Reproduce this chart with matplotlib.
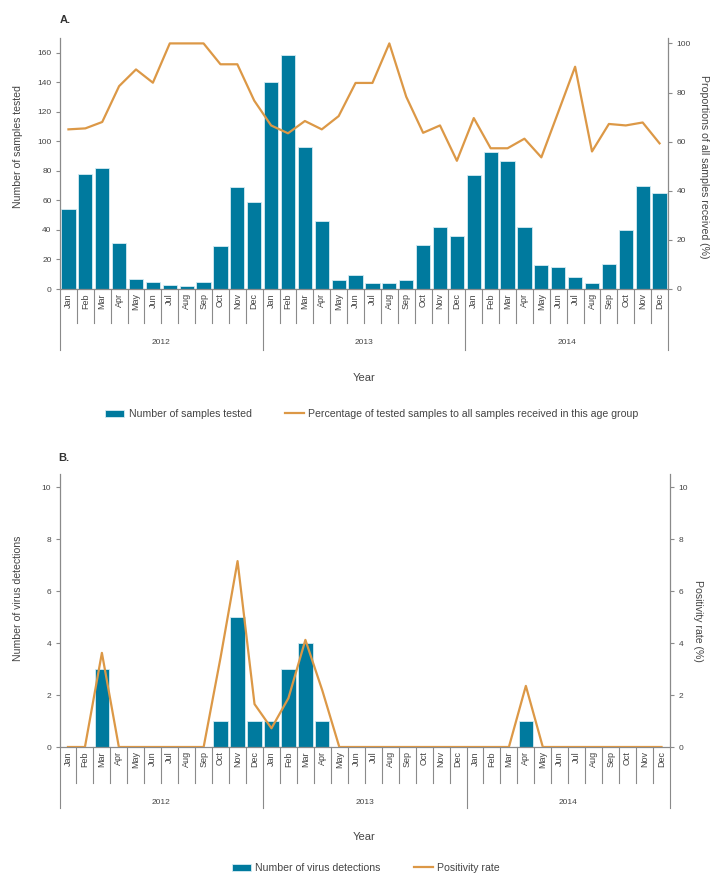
import matplotlib
matplotlib.use('Agg')
import matplotlib.pyplot as plt
import numpy as np

plt.rcParams['font.family'] = ['Liberation Sans', 'DejaVu Sans']

months = ['Jan', 'Feb', 'Mar', 'Apr', 'May', 'Jun', 'Jul', 'Aug', 'Sep', 'Oct', 'Nov', 'Dec']
years = ['2012', '2013', '2014']

# Panel A: samples tested and share of all samples received (%)
samples_tested = [54, 78, 82, 31, 7, 4.5, 3, 2, 5, 29, 69, 59,
                  140, 158.5, 96, 46, 6, 9.5, 4.3, 4.3, 6, 30, 42, 36,
                  77, 93, 87, 42, 16, 15, 8, 4.3, 17, 40, 70, 65]
pct_tested = [65, 65.4, 68, 82.6, 89.4, 84, 100, 100, 100, 91.5, 91.5, 76.7,
              66.6, 63.4, 68.4, 65, 70.4, 83.9, 83.9, 100, 78.3, 63.6, 66.6, 52.2,
              69.6, 57.3, 57.3, 61.2, 53.6, 72, 90.5, 56, 67.2, 66.6, 67.8, 59.3]

# Panel B: virus detections and positivity rate (%)
detections = [0, 0, 3, 0, 0, 0, 0, 0, 0, 1, 5, 1,
              1, 3, 4, 1, 0, 0, 0, 0, 0, 0, 0, 0,
              0, 0, 0, 1, 0, 0, 0, 0, 0, 0, 0, 0]
positivity = [0, 0, 3.62, 0, 0, 0, 0, 0, 0, 3.45, 7.15, 1.65,
              0.72, 1.88, 4.12, 2.17, 0, 0, 0, 0, 0, 0, 0, 0,
              0, 0, 0, 2.35, 0, 0, 0, 0, 0, 0, 0, 0]

BAR = '#007a9e'
LINE = '#dc9846'
GREY = '#8a8a8a'
TXT = '#444444'
FS = 7.6

W, H = 725, 885
fig = plt.figure(figsize=(W / 100, H / 100), dpi=100)


def px(x, y):
    return x / W, 1 - y / H


def make_panel(rect, bars, line, ylim_l, ylim_r, yticks_l, yticks_r, leg_labels, geom):
    ax = fig.add_axes(rect)
    x = np.arange(36)
    ax.bar(x, bars, width=0.84, color=BAR, edgecolor='#d6ebf2', linewidth=0.6, zorder=2,
           label=leg_labels[0])
    ax.set_xlim(-0.5, 35.5)
    ax.set_ylim(*ylim_l)
    ax.set_yticks(yticks_l)
    ax2 = ax.twinx()
    ax2.plot(x, line, color=LINE, lw=1.6, zorder=3, label=leg_labels[1])
    ax2.set_ylim(*ylim_r)
    ax2.set_yticks(yticks_r)

    for a in (ax, ax2):
        a.spines['top'].set_visible(False)
        for s in ('left', 'right', 'bottom'):
            a.spines[s].set_color(GREY)
            a.spines[s].set_linewidth(0.9)
        a.tick_params(axis='y', length=3, width=0.8, color=GREY, labelsize=6,
                      labelcolor=TXT, pad=3)
    ax.spines['right'].set_visible(False)
    ax2.spines['left'].set_visible(False)
    ax2.spines['bottom'].set_visible(False)

    ax.set_xticks(x)
    ax.set_xticklabels(months * 3, rotation=90, fontsize=6.5, color=TXT, va='top')
    ax.tick_params(axis='x', length=0, pad=3)

    # month / year separators below the axis
    ax_h = geom['ax_h']
    m_len = geom['m_len'] / ax_h
    y_len = geom['y_len'] / ax_h
    tr = ax.get_xaxis_transform()
    for i in range(37):
        xs = i - 0.5
        depth = y_len if i % 12 == 0 else m_len
        ax.plot([xs, xs], [0, -depth], color=GREY, lw=0.8, transform=tr,
                clip_on=False, zorder=1)
    for k, yr in enumerate(years):
        ax.text(k * 12 + 5.5, -geom['yr_y'] / ax_h, yr, transform=tr, ha='center',
                va='center', fontsize=6, color=TXT)

    h1, l1 = ax.get_legend_handles_labels()
    h2, l2 = ax2.get_legend_handles_labels()
    return ax, ax2, h1 + h2, l1 + l2


# ---- Panel A ----
axA, axA2, hA, lA = make_panel(
    [60 / W, 1 - 289 / H, 608 / W, 251 / H],
    samples_tested, pct_tested, (0, 170), (0, 102.2),
    np.arange(0, 161, 20), np.arange(0, 101, 20),
    ['Number of samples tested',
     'Percentage of tested samples to all samples received in this age group'],
    dict(ax_h=251, m_len=34, y_len=61, yr_y=54))

fig.text(*px(60, 20), 'A.', fontsize=8, fontweight='bold', color='#333333', va='center')
fig.text(*px(18, 147), 'Number of samples tested', rotation=90, ha='center', va='center',
         fontsize=FS, color=TXT)
fig.text(*px(704, 167), 'Proportions of all samples received (%)', rotation=270,
         ha='center', va='center', fontsize=FS, color=TXT)
fig.text(*px(364, 378), 'Year', ha='center', va='center', fontsize=FS + 0.4, color=TXT)
fig.legend(hA, lA, loc='center', bbox_to_anchor=px(372, 414), ncol=2, frameon=False,
           fontsize=FS, handlelength=1.8, handleheight=0.6, columnspacing=3.2,
           handletextpad=0.4, labelcolor=TXT)

# ---- Panel B ----
axB, axB2, hB, lB = make_panel(
    [59.5 / W, 1 - 747 / H, 610.5 / W, 273 / H],
    detections, positivity, (0, 10.5), (0, 10.5),
    np.arange(0, 11, 2), np.arange(0, 11, 2),
    ['Number of virus detections', 'Positivity rate'],
    dict(ax_h=273, m_len=36, y_len=61, yr_y=55))

fig.text(*px(58, 458), 'B.', fontsize=8, fontweight='bold', color='#333333', va='center')
fig.text(*px(18, 598), 'Number of virus detections', rotation=90, ha='center', va='center',
         fontsize=FS, color=TXT)
fig.text(*px(698, 621), 'Positivity rate (%)', rotation=270, ha='center', va='center',
         fontsize=FS, color=TXT)
fig.text(*px(364, 837), 'Year', ha='center', va='center', fontsize=FS + 0.4, color=TXT)
fig.legend(hB, lB, loc='center', bbox_to_anchor=px(366, 868), ncol=2, frameon=False,
           fontsize=FS, handlelength=1.8, handleheight=0.6, columnspacing=3.2,
           handletextpad=0.4, labelcolor=TXT)

plt.savefig('out.png', dpi=100)
